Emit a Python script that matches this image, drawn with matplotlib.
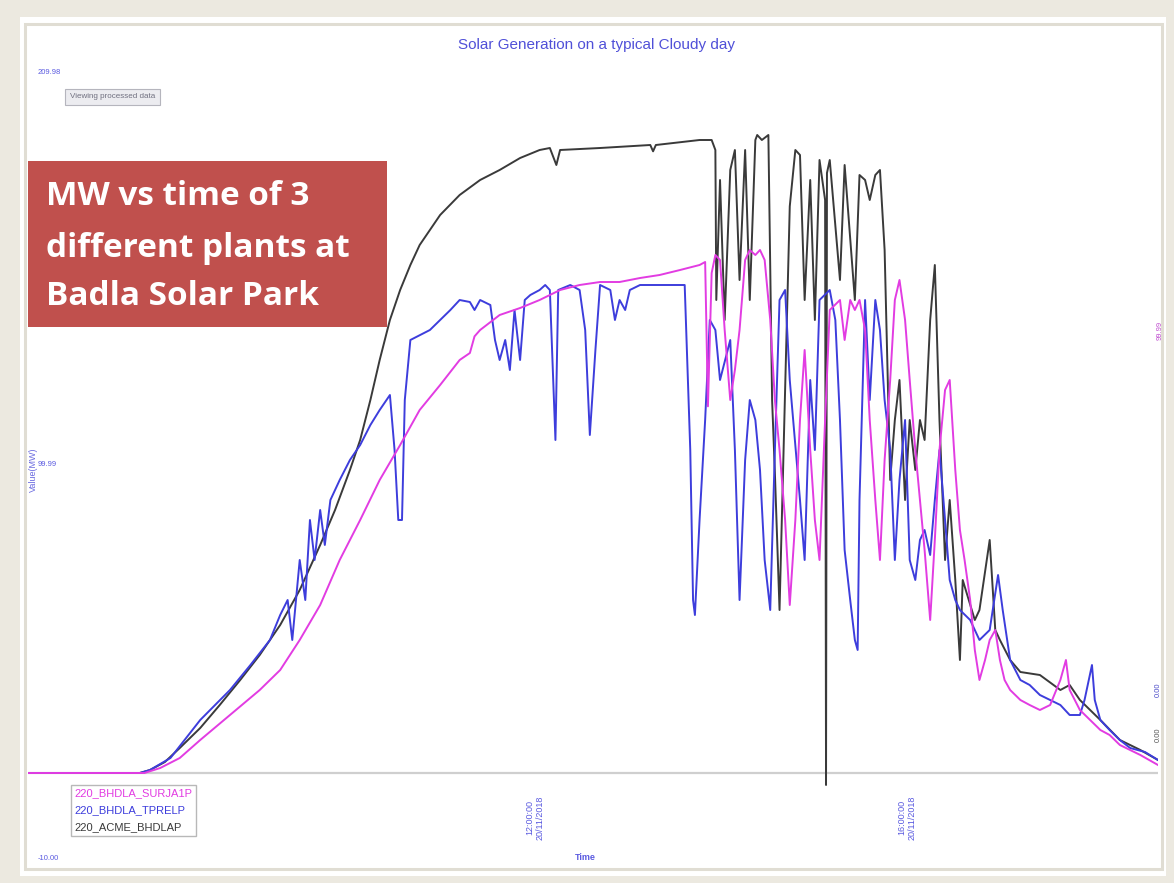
import matplotlib
matplotlib.use("Agg")
import matplotlib.pyplot as plt
from matplotlib.patches import Rectangle

# ---- data: time of day (hours) and generation (MW) for three plants ----
acme_t = [6.55, 7.75, 7.86, 8.02, 8.18, 8.40, 8.61, 8.83, 9.04, 9.26, 9.47, 9.69, 9.85,
          10.01, 10.12, 10.23, 10.33, 10.44, 10.55, 10.66, 10.76, 10.98, 11.19, 11.41,
          11.62, 11.84, 12.05, 12.16, 12.23, 12.27, 12.70, 13.24, 13.27, 13.30, 13.77,
          13.90, 13.94, 13.95, 13.99, 14.04, 14.10, 14.15, 14.20, 14.26, 14.31, 14.37,
          14.39, 14.44, 14.51, 14.55, 14.58, 14.63, 14.74, 14.80, 14.85, 14.90, 14.96,
          15.01, 15.06, 15.12, 15.13, 15.14, 15.17, 15.28, 15.33, 15.44, 15.49, 15.55,
          15.60, 15.66, 15.71, 15.76, 15.82, 15.87, 15.92, 15.98, 16.03, 16.09, 16.14,
          16.19, 16.25, 16.30, 16.35, 16.41, 16.46, 16.52, 16.57, 16.60, 16.73, 16.78,
          16.89, 16.95, 17.00, 17.11, 17.22, 17.43, 17.65, 17.75, 17.86, 18.08, 18.29,
          18.51, 18.70]
acme_mw = [0, 0, 0.9, 3.3, 7.5, 13.5, 20.4, 27.9, 35.4, 44.4, 54.9, 68.4, 78.9,
           90.9, 99.9, 111.9, 123.9, 135.9, 144.9, 152.4, 158.4, 167.4, 173.4, 177.9,
           180.9, 184.5, 186.9, 187.5, 182.4, 186.9, 187.5, 188.4, 186.5, 188.4, 189.9,
           189.9, 186.9, 141.9, 177.9, 135.9, 180.9, 186.9, 147.9, 186.9, 141.9, 189.9,
           191.4, 189.9, 191.4, 111.9, 90.0, 48.9, 170.0, 186.9, 185.4, 141.9, 177.9,
           135.9, 183.9, 171.9, -3.6, 180.0, 183.9, 147.9, 182.4, 141.9, 179.4, 177.9,
           171.9, 179.4, 180.9, 156.9, 87.9, 105.9, 117.9, 81.9, 105.9, 90.9, 105.9,
           99.9, 135.9, 152.4, 105.9, 63.9, 81.9, 57.9, 33.9, 57.9, 45.9, 48.9,
           69.9, 42.9, 39.9, 33.9, 30.3, 29.4, 24.9, 26.4, 21.9, 15.9, 9.9,
           6.9, 3.9]

tprel_t = [6.55, 7.75, 7.86, 8.08, 8.40, 8.72, 8.94, 9.15, 9.26, 9.34, 9.39, 9.47, 9.53,
           9.58, 9.63, 9.69, 9.74, 9.80, 9.90, 10.01, 10.12, 10.23, 10.33, 10.44, 10.49,
           10.53, 10.57, 10.60, 10.66, 10.87, 10.98, 11.09, 11.19, 11.30, 11.35, 11.41,
           11.52, 11.57, 11.62, 11.68, 11.73, 11.78, 11.84, 11.89, 11.95, 12.05, 12.11,
           12.16, 12.22, 12.25, 12.38, 12.48, 12.54, 12.59, 12.65, 12.70, 12.81, 12.86,
           12.91, 12.97, 13.02, 13.13, 13.34, 13.61, 13.67, 13.70, 13.72, 13.77, 13.83,
           13.88, 13.94, 13.99, 14.10, 14.15, 14.20, 14.26, 14.31, 14.37, 14.42, 14.47,
           14.53, 14.58, 14.63, 14.69, 14.74, 14.85, 14.90, 14.96, 15.01, 15.06, 15.17,
           15.23, 15.28, 15.33, 15.39, 15.44, 15.47, 15.49, 15.55, 15.60, 15.66, 15.71,
           15.76, 15.82, 15.87, 15.92, 15.98, 16.03, 16.09, 16.14, 16.19, 16.25, 16.30,
           16.35, 16.41, 16.46, 16.52, 16.57, 16.68, 16.78, 16.89, 16.98, 17.03, 17.11,
           17.22, 17.32, 17.43, 17.54, 17.65, 17.75, 17.86, 17.91, 17.99, 18.02, 18.08,
           18.18, 18.29, 18.40, 18.56, 18.70]
tprel_mw = [0, 0, 0.9, 4.5, 15.9, 24.9, 32.4, 39.9, 47.4, 51.9, 39.9, 63.9, 51.9,
            75.9, 63.9, 78.9, 68.4, 81.9, 87.9, 93.9, 98.4, 104.4, 108.9, 113.4, 96.9,
            75.9, 75.9, 111.9, 129.9, 132.9, 135.9, 138.9, 141.9, 141.3, 138.9, 141.9,
            140.4, 129.9, 123.9, 129.9, 120.9, 138.9, 123.9, 141.9, 143.4, 144.9, 146.4,
            144.9, 99.9, 144.9, 146.4, 144.9, 132.9, 101.4, 126.9, 146.4, 144.9, 135.9,
            141.9, 138.9, 144.9, 146.4, 146.4, 146.4, 96.9, 51.9, 47.4, 75.9, 105.9,
            135.9, 132.9, 117.9, 129.9, 96.9, 51.9, 93.9, 111.9, 105.9, 90.9, 63.9,
            48.9, 96.9, 141.9, 144.9, 117.9, 81.9, 63.9, 117.9, 96.9, 141.9, 144.9,
            135.9, 105.9, 66.9, 51.9, 39.9, 36.9, 81.9, 141.9, 111.9, 141.9, 132.9,
            111.9, 96.9, 63.9, 87.9, 105.9, 63.9, 57.9, 69.9, 72.9, 65.4, 81.9,
            96.9, 75.9, 57.9, 51.9, 48.9, 45.9, 39.9, 42.9, 59.4, 48.9, 33.9,
            27.9, 26.4, 23.4, 21.9, 20.4, 17.4, 17.4, 21.9, 32.4, 21.9, 15.9,
            12.9, 9.9, 7.5, 6.3, 3.9]

surja_t = [6.55, 7.80, 7.97, 8.18, 8.40, 8.72, 9.04, 9.26, 9.47, 9.69, 9.90, 10.12, 10.33,
           10.55, 10.76, 10.98, 11.19, 11.30, 11.35, 11.41, 11.62, 11.84, 12.05, 12.27,
           12.48, 12.70, 12.91, 13.13, 13.34, 13.56, 13.77, 13.83, 13.86, 13.90, 13.94,
           13.99, 14.04, 14.10, 14.15, 14.20, 14.26, 14.31, 14.37, 14.42, 14.47, 14.53,
           14.58, 14.63, 14.69, 14.74, 14.80, 14.85, 14.90, 14.96, 15.01, 15.06, 15.12,
           15.17, 15.28, 15.33, 15.39, 15.44, 15.49, 15.55, 15.60, 15.66, 15.71, 15.76,
           15.82, 15.87, 15.92, 15.98, 16.03, 16.09, 16.14, 16.19, 16.25, 16.30, 16.35,
           16.41, 16.46, 16.52, 16.57, 16.62, 16.68, 16.73, 16.78, 16.84, 16.89, 16.95,
           17.00, 17.05, 17.11, 17.22, 17.32, 17.43, 17.54, 17.65, 17.71, 17.75, 17.86,
           17.97, 18.08, 18.18, 18.29, 18.40, 18.51, 18.70]
surja_mw = [0, 0, 1.5, 4.5, 9.9, 17.4, 24.9, 30.9, 39.9, 50.4, 63.9, 75.9, 87.9,
            98.4, 108.9, 116.4, 123.9, 126.0, 131.0, 132.9, 137.4, 139.5, 141.9, 144.9,
            146.4, 147.3, 147.3, 148.5, 149.4, 150.9, 152.4, 153.3, 110.0, 150.0, 155.4,
            153.9, 132.9, 111.9, 120.9, 132.9, 153.9, 156.9, 155.4, 156.9, 153.9, 135.9,
            111.9, 96.9, 75.9, 50.4, 75.9, 105.9, 126.9, 96.9, 75.9, 63.9, 105.9,
            138.9, 141.9, 129.9, 141.9, 138.9, 141.9, 132.9, 105.9, 81.9, 63.9, 93.9,
            117.9, 141.9, 147.9, 135.9, 117.9, 96.9, 81.9, 66.9, 45.9, 69.9, 96.9,
            114.9, 117.9, 90.9, 72.9, 63.9, 51.9, 36.9, 27.9, 33.9, 39.9, 42.9,
            33.9, 27.9, 24.9, 21.9, 20.4, 18.9, 20.4, 27.9, 33.9, 24.9, 18.9,
            15.9, 12.9, 11.4, 8.4, 6.9, 5.4, 2.4]

series_names = ["220_BHDLA_SURJA1P", "220_BHDLA_TPRELP", "220_ACME_BHDLAP"]
series_colors = ["#e23ce2", "#3d3ddc", "#3a3a3a"]
tick_hours = [12, 16]
tick_labels = ["12:00:00\n20/11/2018", "16:00:00\n20/11/2018"]
y_tick_texts = ["209.98", "99.99", "-10.00"]

W, H = 1174, 883
fig = plt.figure(figsize=(W / 100, H / 100), dpi=100)
fig.patch.set_facecolor("#ECE9E0")

def fx(px):
    return px / W

def fy(py):
    return 1 - py / H

# white card and window frame
fig.patches.append(Rectangle((fx(20), fy(876)), fx(1146), 859 / H, transform=fig.transFigure,
                             facecolor="white", edgecolor="none", zorder=0))
fig.patches.append(Rectangle((fx(25), fy(869)), fx(1137), 845 / H, transform=fig.transFigure,
                             facecolor="none", edgecolor="#E0DDD3", linewidth=2.2, zorder=1))

ax = fig.add_axes([fx(28), fy(790), fx(1130), 718 / H])
ax.set_zorder(3)
ax.set_facecolor("none")
for s in ax.spines.values():
    s.set_visible(False)
ax.set_xlim(6.548, 18.70)
ax.set_ylim(-5.1, 210.3)

ax.axhline(0, color="#cfcfcf", linewidth=1.6, zorder=1)

lw = 1.4
l_acme, = ax.plot(acme_t, acme_mw, color=series_colors[2], linewidth=lw, zorder=3)
l_tprel, = ax.plot(tprel_t, tprel_mw, color=series_colors[1], linewidth=lw, zorder=4)
l_surja, = ax.plot(surja_t, surja_mw, color=series_colors[0], linewidth=lw, zorder=5)

ax.set_xticks(tick_hours)
ax.set_xticklabels(tick_labels, rotation=90, fontsize=6.5, color="#5a5ae0",
                   family="Liberation Sans", va="top", linespacing=1.1)
ax.tick_params(axis="x", length=0, pad=4)
ax.set_yticks([])

leg = ax.legend([l_surja, l_tprel, l_acme], series_names, loc="upper left",
                bbox_to_anchor=(fx(65), fy(779)), bbox_transform=fig.transFigure,
                handlelength=0, handletextpad=0, labelcolor=series_colors,
                prop={"family": "Liberation Sans", "size": 8}, frameon=True,
                fancybox=False, framealpha=1, edgecolor="#b8b8b8", borderpad=0.35,
                labelspacing=0.6)
leg.get_frame().set_linewidth(1.0)

# title and axis texts
fig.text(fx(597), fy(45), "Solar Generation on a typical Cloudy day", ha="center",
         va="center", fontsize=11, color="#5050d8", family="Liberation Sans")
fig.text(fx(585), fy(857), "Time", ha="center", va="center", fontsize=6.5,
         color="#5a5ae0", family="Liberation Sans", fontweight="bold")
fig.text(fx(33), fy(470), "Value(MW)", ha="center", va="center", rotation=90,
         fontsize=6.5, color="#6a6ae0", family="Liberation Sans")
for py, txt in zip([72, 465, 858], y_tick_texts):
    fig.text(fx(38), fy(py), txt, ha="left", va="center", fontsize=5.5,
             color="#5a5ae0", family="Liberation Sans")
fig.text(fx(1160), fy(330), "99.99", ha="center", va="center", rotation=90,
         fontsize=5.5, color="#c050d0", family="Liberation Sans")
fig.text(fx(1158), fy(690), "0.00", ha="center", va="center", rotation=90,
         fontsize=5.5, color="#4a4ac8", family="Liberation Sans")
fig.text(fx(1158), fy(735), "0.00", ha="center", va="center", rotation=90,
         fontsize=5.5, color="#555555", family="Liberation Sans")

# small status box
fig.text(fx(70), fy(97), "Viewing processed data", ha="left", va="center", fontsize=5.8,
         color="#707080", family="Liberation Sans",
         bbox=dict(boxstyle="square,pad=0.6", facecolor="#ececf0", edgecolor="#b5b5bd",
                   linewidth=0.8))

# annotation panel
fig.patches.append(Rectangle((fx(28), fy(327)), fx(359), 166 / H, transform=fig.transFigure,
                             facecolor="#C0504D", edgecolor="none", zorder=6))
for py, line in zip([205, 257, 305], ["MW vs time of 3", "different plants at",
                                      "Badla Solar Park"]):
    fig.text(fx(46), fy(py), line, ha="left", va="baseline", fontsize=24,
             color="white", family="Open Sans", fontweight="bold", zorder=7)

fig.savefig("out.png", dpi=100, facecolor=fig.get_facecolor())
